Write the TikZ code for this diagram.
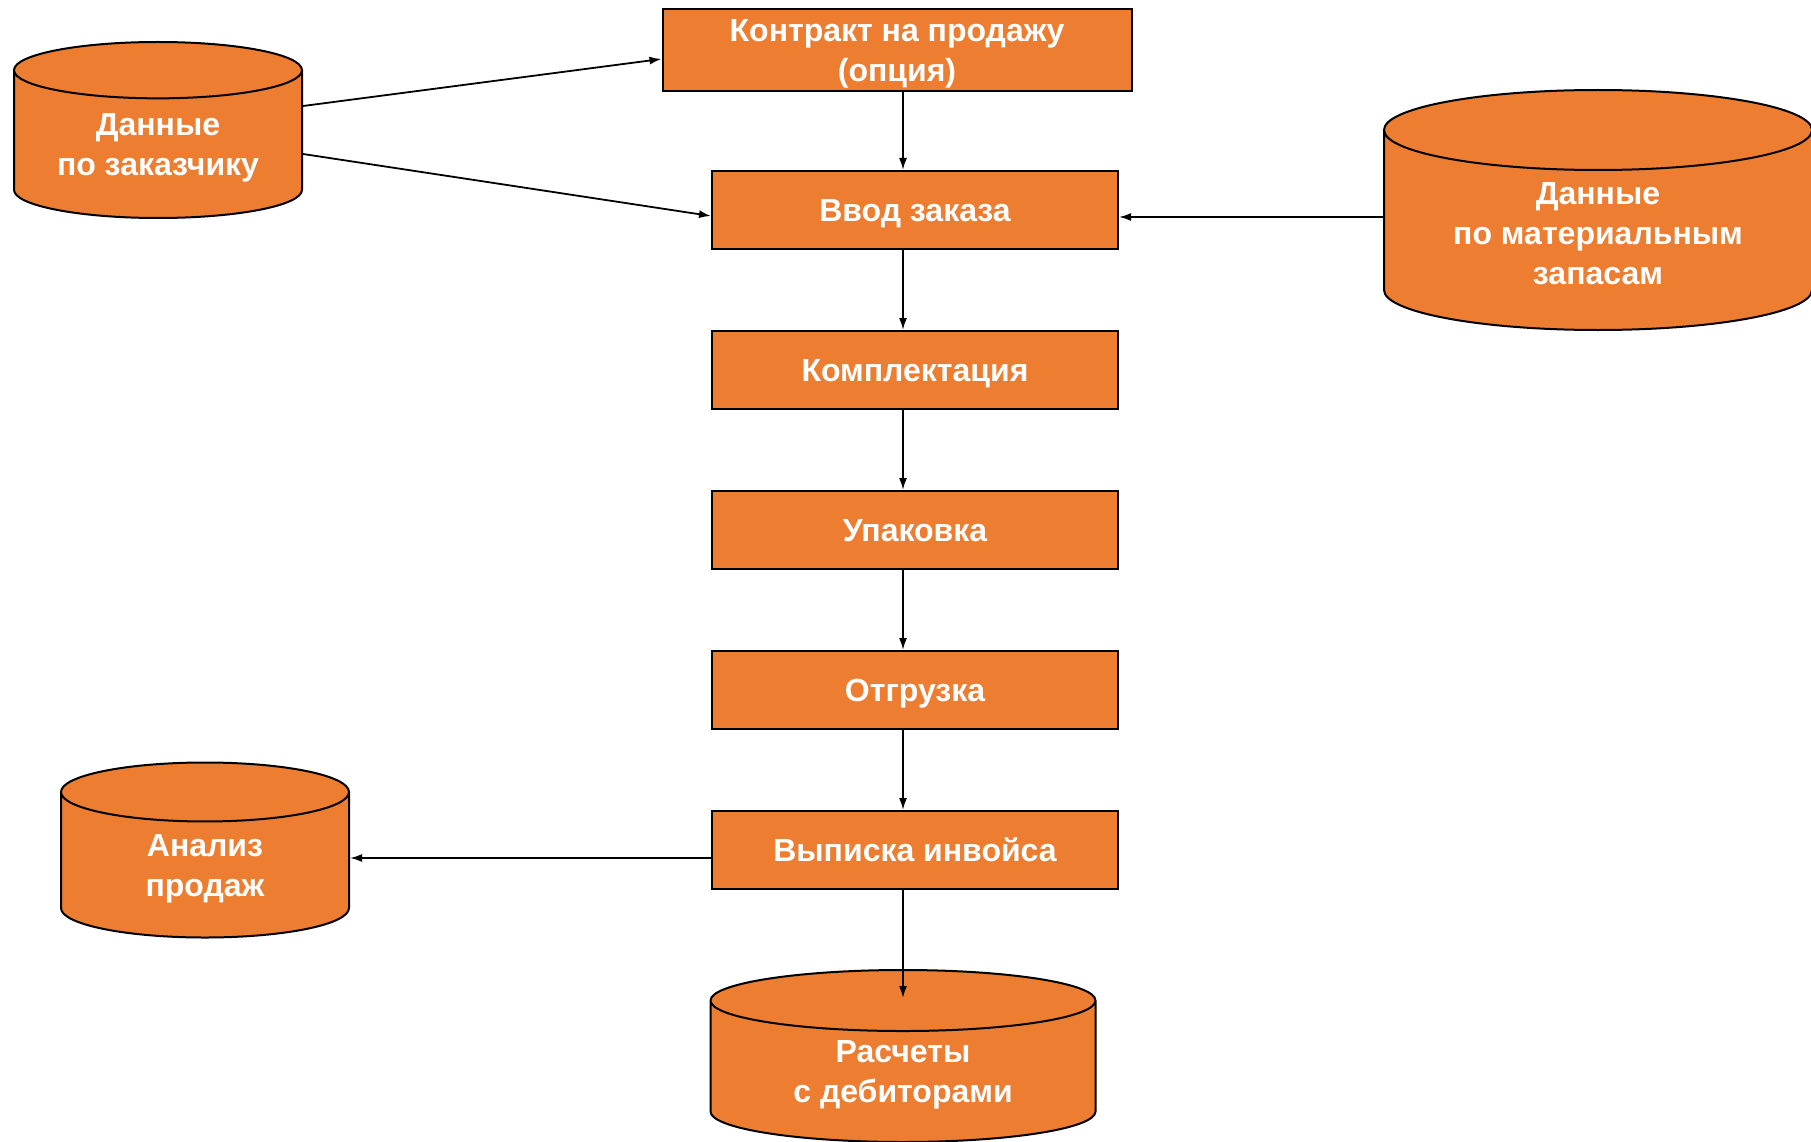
\documentclass[tikz,border=0pt]{standalone}
\usepackage{fontspec}
\setmainfont{Liberation Sans}
\usetikzlibrary{arrows.meta,positioning,shapes.geometric}
\definecolor{flow}{HTML}{ED7D31}

\begin{document}
\begin{tikzpicture}[
    x=1pt, y=1pt,
    node distance=80pt,
    font=\fontsize{32}{40}\selectfont\bfseries,
    box/.style={draw, line width=2pt, fill=flow, text=white, align=center, minimum height=78pt, minimum width=406pt, text height=29pt, text depth=6.8pt},
    store/.style={draw, line width=2pt, fill=flow, text=white, align=center, cylinder, shape border rotate=90, anchor=shape center},
    arrow/.style={-{Latex[length=12pt, width=8pt]}, line width=1.8pt}
  ]
    \useasboundingbox (0,0) rectangle (1811,-1142);

    \node[box, minimum width=469pt, text height=69pt] (contract) at (897,-50) {Контракт на продажу\\(опция)};
    \node[box] (order) at (915,-210) {Ввод заказа};
    \node[box, below=of order] (picking) {Комплектация};
    \node[box, below=of picking] (packing) {Упаковка};
    \node[box, below=of packing] (shipping) {Отгрузка};
    \node[box, below=of shipping] (invoice) {Выписка инвойса};

    \node[store, aspect=0.27, minimum width=288pt, minimum height=176pt] (customer) at (158,-130) {Данные\\по заказчику};
    \node[store, aspect=0.27, minimum width=428pt, minimum height=240pt] (stock) at (1598,-210) {Данные\\по материальным\\запасам};
    \node[store, aspect=0.47, minimum width=288pt, minimum height=175pt] (sales) at (205,-850) {Анализ\\продаж};
    \node[store, aspect=0.27, minimum width=385pt, minimum height=172pt] (ledger) at (903,-1056) {Расчеты\\с дебиторами};

    % ends of the side connectors
    \coordinate (custhi) at ([yshift=24pt]customer.shape center);
    \coordinate (custlo) at ([yshift=-24pt]customer.shape center);
    \coordinate (stockin) at ([yshift=-7pt]order.east);
    \coordinate (salesout) at ([yshift=-8pt]invoice.west);

    \draw[arrow] (custhi -| customer.east) -- ([yshift=-9pt]contract.west);
    \draw[arrow] (custlo -| customer.east) -- ([yshift=-6pt]order.west);
    \draw[arrow] (stockin -| stock.west) -- (stockin);
    \draw[arrow] ([xshift=-12pt]order.north |- contract.south) -- ([xshift=-12pt]order.north);
    \foreach \a/\b in {order/picking, picking/packing, packing/shipping, shipping/invoice}
      \draw[arrow] ([xshift=-12pt]\a.south) -- ([xshift=-12pt]\b.north);
    \draw[arrow] (salesout) -- (salesout -| sales.east);
    \draw[arrow] ([xshift=-12pt]invoice.south) -- ([yshift=-29pt]ledger.top);
  \end{tikzpicture}
\end{document}
